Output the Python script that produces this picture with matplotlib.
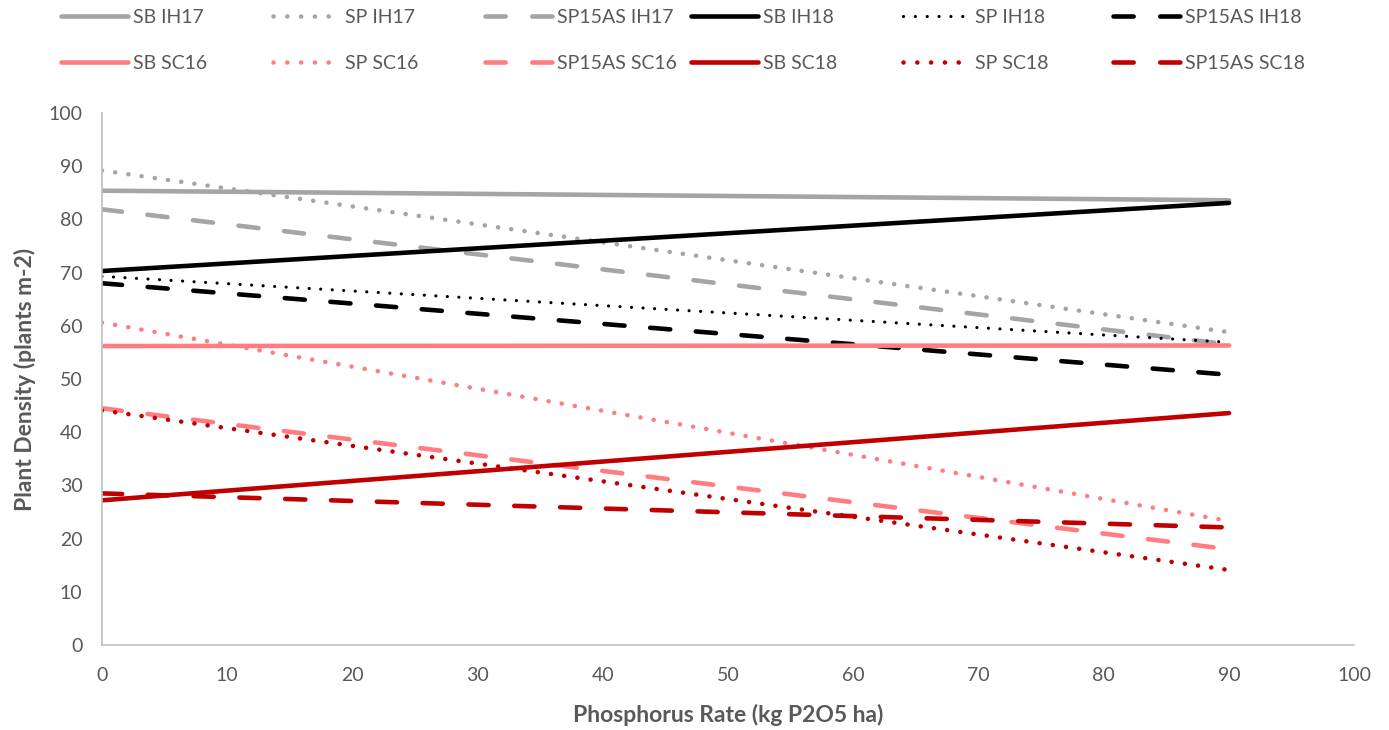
import numpy as np
import matplotlib.pyplot as plt
from matplotlib.lines import Line2D

plt.rcParams['font.family'] = ['Lato', 'DejaVu Sans']

# phosphorus rates (kg P2O5 ha)
rate = [0, 90]

# plant density at 0 and 90 kg P2O5 ha
sb_ih17 = [85.4, 83.6]
sp_ih17 = [89.2, 58.8]
sp15as_ih17 = [81.9, 56.5]
sb_ih18 = [70.3, 83.1]
sp_ih18 = [69.3, 56.9]
sp15as_ih18 = [68.0, 50.8]
sb_sc16 = [56.2, 56.3]
sp_sc16 = [60.6, 23.3]
sp15as_sc16 = [44.5, 18.0]
sb_sc18 = [27.2, 43.6]
sp_sc18 = [44.1, 14.1]
sp15as_sc18 = [28.5, 22.1]

labels = ['SB IH17', 'SP IH17', 'SP15AS IH17', 'SB IH18', 'SP IH18', 'SP15AS IH18',
          'SB SC16', 'SP SC16', 'SP15AS SC16', 'SB SC18', 'SP SC18', 'SP15AS SC18']
series = [sb_ih17, sp_ih17, sp15as_ih17, sb_ih18, sp_ih18, sp15as_ih18,
          sb_sc16, sp_sc16, sp15as_sc16, sb_sc18, sp_sc18, sp15as_sc18]

grey = '#A5A5A5'
pink = '#FF7C80'
dred = '#C00000'
colors = [grey, grey, grey, 'black', 'black', 'black',
          pink, pink, pink, dred, dred, dred]

# line styles: solid / round dot / long dash (in the plot and in the legend)
plot_ls = {'solid': '-', 'dot': (0, (0.01, 2.9)), 'dash': (0, (4.4, 5.6))}
leg_ls = {'solid': '-', 'dot': (0, (0.01, 3.0)), 'dash': (0, (4.4, 5.8))}
kinds = ['solid', 'dot', 'dash'] * 4
widths = [3.3, 3.3, 3.3, 3.3, 2.3, 3.3, 3.3, 3.3, 3.3, 3.3, 3.3, 3.3]

fig = plt.figure(figsize=(13.89, 7.3), dpi=100)
ax = fig.add_axes([0.0734, 0.1164, 0.9016, 0.7288])

proxies = []
for y, lab, c, k, lw in zip(series, labels, colors, kinds, widths):
    ls = plot_ls[k]
    lls = leg_ls[k]
    if k == 'dot' and lw < 3:
        ls = (0, (0.01, 3.6))
        lls = (0, (0.01, 3.7))
    ax.plot(rate, y, color=c, linestyle=ls, linewidth=lw,
            solid_capstyle='round', dash_capstyle='round')
    proxies.append(Line2D([], [], color=c, linestyle=lls, linewidth=lw,
                          solid_capstyle='round', dash_capstyle='round'))

ax.set_xlim(0, 100)
ax.set_ylim(0, 100)
ax.set_xticks(np.arange(0, 101, 10))
ax.set_yticks(np.arange(0, 101, 10))
for s in ['top', 'right']:
    ax.spines[s].set_visible(False)
for s in ['left', 'bottom']:
    ax.spines[s].set_color('#BFBFBF')
    ax.spines[s].set_linewidth(1.2)
ax.tick_params(length=0, labelsize=14, colors='#595959')
ax.tick_params(axis='x', pad=16)
ax.tick_params(axis='y', pad=14)

ax.set_xlabel('Phosphorus Rate (kg P2O5 ha)', fontsize=16.5, fontweight='bold',
              color='#595959', labelpad=14)
ax.set_ylabel('Plant Density (plants m-2)', fontsize=16.5, fontweight='bold',
              color='#595959', labelpad=9)

# legend: 6 equal-width columns, 2 rows
col_x = [61, 273, 485, 691, 903, 1113]
for j, x0 in enumerate(col_x):
    leg = fig.legend([proxies[j], proxies[j + 6]], [labels[j], labels[j + 6]],
                     loc='upper left', bbox_to_anchor=(x0 / 1389, 1 - 9 / 730),
                     frameon=False, fontsize=14, handlelength=3.45,
                     handletextpad=0.25, labelspacing=1.5,
                     borderpad=0, borderaxespad=0)
    for t in leg.get_texts():
        t.set_color('#595959')

fig.savefig('out.png', dpi=100)
